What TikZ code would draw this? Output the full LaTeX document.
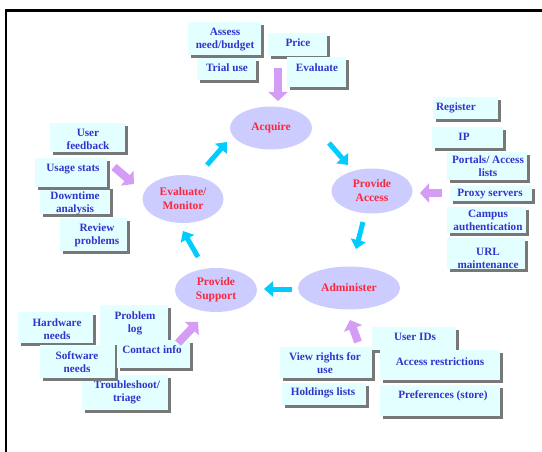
\documentclass[tikz,border=0pt]{standalone}
\usepackage{fontspec}
\setmainfont{Liberation Serif}
\usetikzlibrary{arrows.meta,shadows,shapes.geometric}
\definecolor{boxfill}{RGB}{228,255,255}
\definecolor{boxtext}{RGB}{51,51,204}
\definecolor{ellfill}{RGB}{204,204,255}
\definecolor{elltext}{RGB}{250,40,60}
\definecolor{cyanar}{RGB}{0,204,255}
\definecolor{purpar}{RGB}{212,156,245}
\definecolor{shadowgray}{RGB}{120,120,120}
\tikzset{
  boxst/.style={fill=boxfill, inner sep=0pt,
    general shadow={fill=shadowgray, shadow xshift=3pt, shadow yshift=-3pt}},
  boxtxt/.style={text=boxtext, font=\bfseries\fontsize{11.2}{13}\selectfont, align=center, inner sep=0pt},
  ellst/.style={ellipse, fill=ellfill, inner sep=0pt, text=elltext,
    font=\bfseries\fontsize{11.5}{14}\selectfont, align=center},
  cyanarrow/.style={draw=cyanar, line width=5pt, -{Triangle[width=15pt,length=9pt]}},
  purparrow/.style={draw=purpar, line width=8pt, -{Triangle[width=19pt,length=9pt]}},
  framest/.style={draw=black, line width=2.3pt}
}
\newcommand\mybox[8]{%
  \node[boxst, minimum width={#4-#2}, minimum height={#5-#3}] (#1) at ({(#2+#4)/2},{(#3+#5)/2}) {};
  \node[boxtxt] (#1t) at (#6,#7) {#8};}
\begin{document}
\begin{tikzpicture}[x=1pt,y=-1pt]
\useasboundingbox (0,0) rectangle (542,452);
\draw[framest] (6.2,452) -- (6.2,10.5) -- (542,10.5);

% top group
\mybox{assess}{188}{22}{261}{55}{225}{40}{Assess\\need/budget}
\mybox{price}{268}{33}{327}{56}{298}{43}{Price}
\mybox{trial}{197}{58}{256}{80}{227}{68}{Trial use}
\mybox{evalb}{287}{57}{346}{87}{317}{68}{Evaluate}

% right group
\mybox{register}{433}{97}{498}{119}{456}{108}{Register}
\mybox{ip}{432}{127}{503}{148}{464}{137}{IP}
\mybox{portals}{447}{152}{527}{180}{488}{166}{Portals/ Access\\lists}
\mybox{proxy}{450}{186}{532}{201}{490}{194}{Proxy servers}
\mybox{campus}{447}{207}{526}{233}{488}{220}{Campus\\authentication}
\mybox{url}{447}{238}{525}{269}{488}{258}{URL\\maintenance}

% left group
\mybox{feedback}{50}{123}{125}{152}{88}{139}{User\\feedback}
\mybox{downtime}{40}{186}{110}{214}{75}{203}{Downtime\\analysis}
\mybox{usage}{35}{158}{107}{187}{73}{169}{Usage stats}
\mybox{review}{60}{218}{127}{251}{97}{235}{Review\\problems}

% bottom-left group
\mybox{hardware}{18}{312}{93}{343}{57}{329}{Hardware\\needs}
\mybox{problem}{100}{305}{168}{345}{135}{323}{Problem\\log}
\mybox{trouble}{82}{375}{168}{410}{127}{392}{Troubleshoot/\\triage}
\mybox{software}{40}{345}{115}{378}{77}{362}{Software\\needs}
\mybox{contact}{117}{340}{190}{368}{152}{350}{Contact info}

% bottom-right group
\mybox{userids}{372}{327}{456}{350}{415}{337}{User IDs}
\mybox{viewrights}{280}{347}{372}{378}{325}{363}{View rights for\\use}
\mybox{access}{380}{350}{500}{380}{440}{362}{Access restrictions}
\mybox{holdings}{282}{383}{366}{405}{323}{393}{Holdings lists}
\mybox{prefs}{380}{385}{500}{416}{443}{396}{Preferences (store)}

% cycle
\node[ellst, minimum width=82pt, minimum height=43pt] (acq) at (271,128) {Acquire};
\node[ellst, minimum width=81pt, minimum height=45pt] (pa) at (372,191) {Provide\\Access};
\node[ellst, minimum width=102pt, minimum height=43pt] (adm) at (349,288) {Administer};
\node[ellst, minimum width=82pt, minimum height=44pt] (ps) at (216,290) {Provide\\Support};
\node[ellst, minimum width=81pt, minimum height=48pt] (em) at (183,199) {Evaluate/\\Monitor};

\coordinate (c1s) at (329,143); \coordinate (c1e) at (348,165);
\coordinate (c2s) at (363,222); \coordinate (c2e) at (356,249);
\coordinate (c3s) at (292,289); \coordinate (c3e) at (264,289);
\coordinate (c4s) at (198,257); \coordinate (c4e) at (183,231);
\coordinate (c5s) at (207,165); \coordinate (c5e) at (227,142);
\draw[cyanarrow] (c1s) -- (c1e);
\draw[cyanarrow] (c2s) -- (c2e);
\draw[cyanarrow] (c3s) -- (c3e);
\draw[cyanarrow] (c4s) -- (c4e);
\draw[cyanarrow] (c5s) -- (c5e);

\coordinate (p1s) at (278,68);  \coordinate (p1e) at (278,101);
\coordinate (p2s) at (442,193); \coordinate (p2e) at (420,193);
\coordinate (p3s) at (114,167); \coordinate (p3e) at (134,184);
\coordinate (p4s) at (178,343); \coordinate (p4e) at (198,322);
\coordinate (p5s) at (358,342); \coordinate (p5e) at (350,320);
\draw[purparrow] (p1s) -- (p1e);
\draw[purparrow] (p2s) -- (p2e);
\draw[purparrow] (p3s) -- (p3e);
\draw[purparrow] (p4s) -- (p4e);
\draw[purparrow] (p5s) -- (p5e);
\end{tikzpicture}
\end{document}
